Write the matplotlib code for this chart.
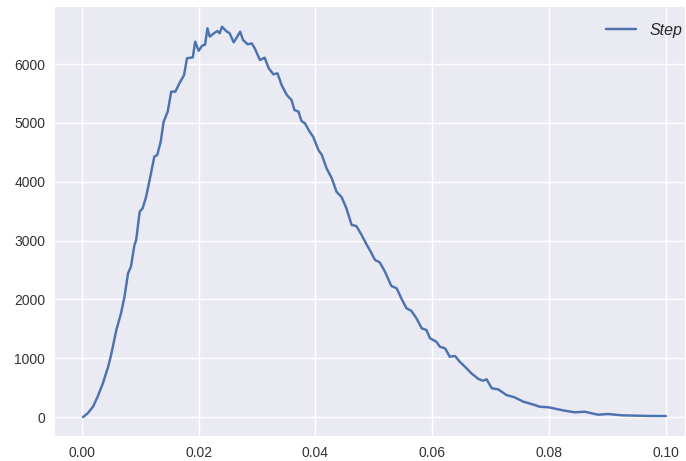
import matplotlib
matplotlib.use("Agg")
import matplotlib.pyplot as plt

# Step-size distribution sampled along x
step_x = [
    0.0002, 0.0010, 0.0019, 0.0027, 0.0036, 0.0045, 0.0050, 0.0059, 0.0067, 0.0073,
    0.0079, 0.0084, 0.0090, 0.0093, 0.0099, 0.0104, 0.0110, 0.0116, 0.0124, 0.0129,
    0.0135, 0.0140, 0.0147, 0.0153, 0.0160, 0.0167, 0.0175, 0.0180, 0.0190, 0.0194,
    0.0200, 0.0206, 0.0211, 0.0215, 0.0219, 0.0226, 0.0232, 0.0236, 0.0240, 0.0247,
    0.0253, 0.0260, 0.0265, 0.0271, 0.0276, 0.0284, 0.0291, 0.0296, 0.0305, 0.0313,
    0.0320, 0.0328, 0.0335, 0.0342, 0.0351, 0.0359, 0.0364, 0.0371, 0.0376, 0.0382,
    0.0390, 0.0396, 0.0405, 0.0411, 0.0419, 0.0428, 0.0436, 0.0445, 0.0453, 0.0462,
    0.0470, 0.0479, 0.0488, 0.0493, 0.0502, 0.0510, 0.0519, 0.0530, 0.0539, 0.0547,
    0.0556, 0.0564, 0.0573, 0.0582, 0.0590, 0.0596, 0.0607, 0.0613, 0.0622, 0.0630,
    0.0639, 0.0647, 0.0656, 0.0667, 0.0679, 0.0687, 0.0693, 0.0702, 0.0713, 0.0727,
    0.0741, 0.0756, 0.0770, 0.0784, 0.0799, 0.0813, 0.0827, 0.0844, 0.0861, 0.0884,
    0.0901, 0.0924, 0.0952, 0.0975, 0.1000,
]
step_y = [
    0, 63, 175, 345, 573, 855, 1054, 1479, 1762, 2045,
    2442, 2555, 2924, 3009, 3490, 3547, 3744, 4028, 4425, 4453,
    4680, 5020, 5190, 5530, 5530, 5672, 5813, 6097, 6114, 6380,
    6225, 6312, 6330, 6607, 6465, 6522, 6561, 6522, 6635, 6561,
    6522, 6368, 6448, 6550, 6408, 6334, 6351, 6266, 6068, 6108,
    5927, 5825, 5842, 5643, 5473, 5388, 5218, 5190, 5031, 4992,
    4850, 4765, 4539, 4453, 4227, 4057, 3830, 3734, 3547, 3264,
    3247, 3094, 2924, 2839, 2669, 2630, 2470, 2227, 2188, 2017,
    1847, 1806, 1677, 1507, 1479, 1340, 1280, 1195, 1167, 1025,
    1037, 940, 855, 743, 646, 617, 641, 488, 470, 374,
    335, 260, 221, 175, 165, 136, 107, 80, 90, 39,
    51, 29, 22, 17, 17,
]
x_ticks = [0.00, 0.02, 0.04, 0.06, 0.08, 0.10]
y_ticks = [0, 1000, 2000, 3000, 4000, 5000, 6000]

plt.style.use("seaborn-v0_8")
plt.rcParams["font.family"] = ["Liberation Sans", "DejaVu Sans"]

fig = plt.figure(figsize=(6.86, 4.61), dpi=100)
ax = fig.add_axes([0.0802, 0.0542, 0.9185, 0.9306])

ax.plot(step_x, step_y, color="#4C72B0", linewidth=1.75, label="Step")

ax.set_xlim(-0.0046, 0.1033)
ax.set_ylim(-323, 6969)
ax.set_xticks(x_ticks)
ax.set_xticklabels([f"{t:.2f}" for t in x_ticks])
ax.set_yticks(y_ticks)
ax.set_yticklabels([str(t) for t in y_ticks])
ax.tick_params(labelsize=10, colors="#333333")

leg = ax.legend(loc="upper right", frameon=False, borderaxespad=0.0,
                bbox_to_anchor=(1.0054, 0.9786), handlelength=1.9,
                prop={"style": "italic", "size": 11.5})

fig.savefig("out.png", dpi=100)
